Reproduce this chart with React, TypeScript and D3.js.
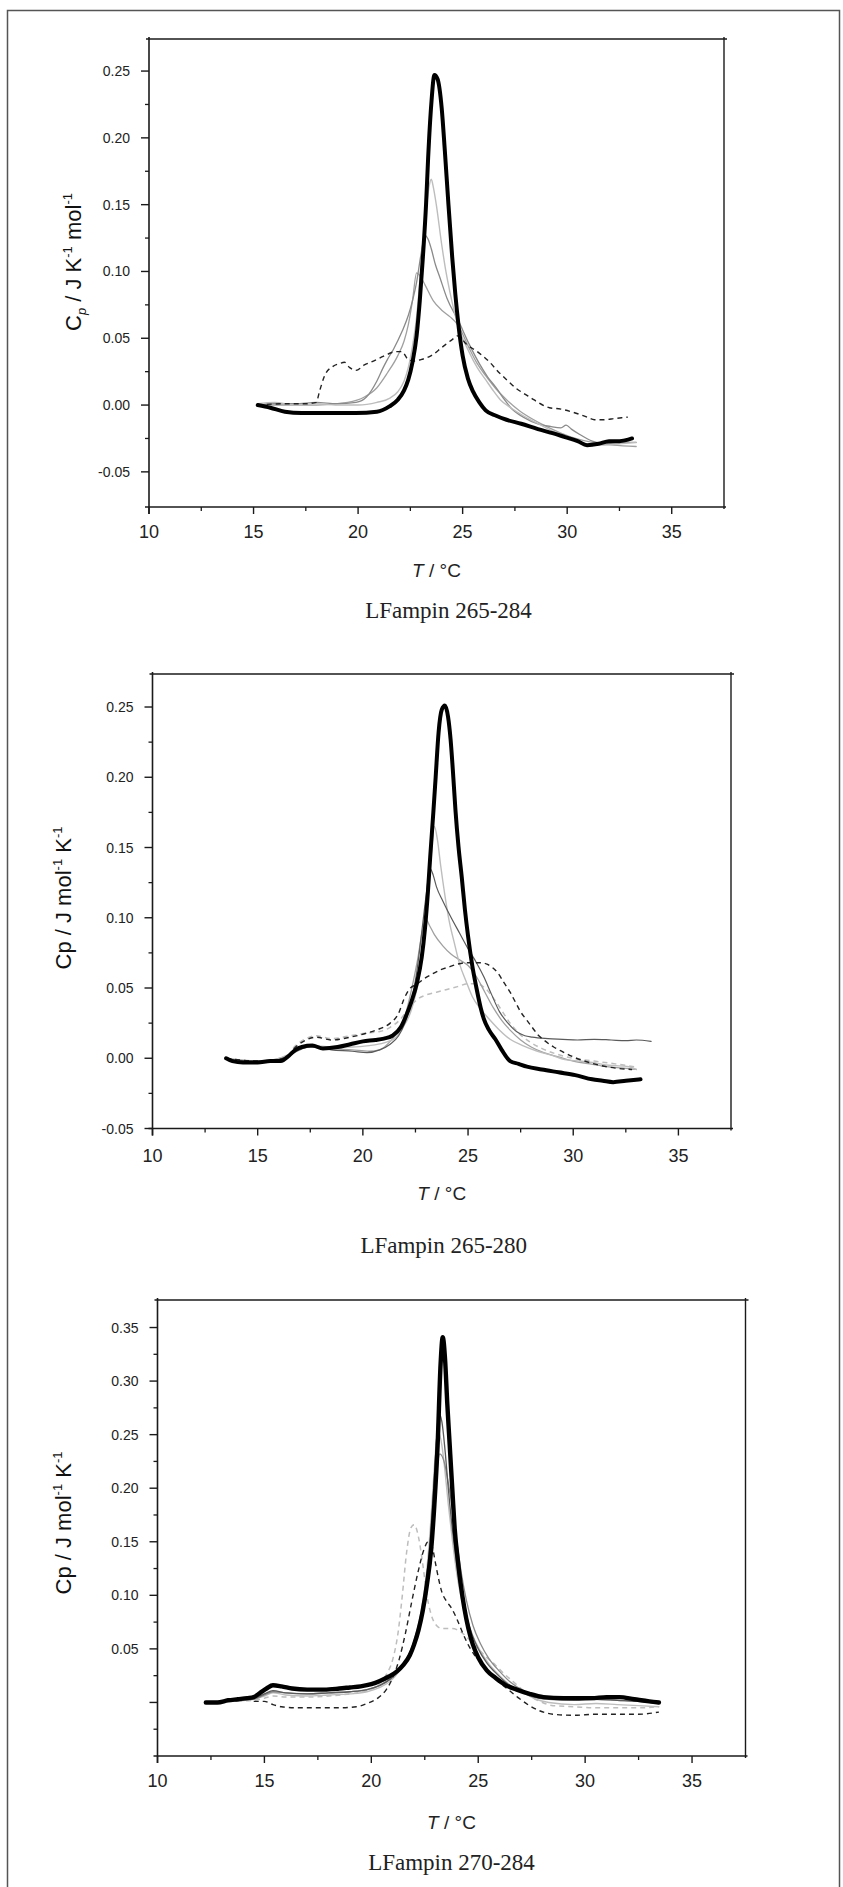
import React from "react";
import * as d3 from "d3";

type Pt = [number, number];

// ---------- shared axis data ----------
const xDomain: [number, number] = [10, 37.5];
const xTickValues = [10, 15, 20, 25, 30, 35];
const xTickLabels = ["10", "15", "20", "25", "30", "35"];
const xMinorTicks = [12.5, 17.5, 22.5, 27.5, 32.5];

// ---------- panel 1 : LFampin 265-284 ----------
const yDomain1: [number, number] = [-0.0763, 0.274];
const yTicks1 = [-0.05, 0, 0.05, 0.1, 0.15, 0.2, 0.25];
const yTickLabels1 = ["-0.05", "0.00", "0.05", "0.10", "0.15", "0.20", "0.25"];
const yMinor1 = [-0.025, 0.025, 0.075, 0.125, 0.175, 0.225];

const p1Black: Pt[] = [[15.2,0.000],[15.8,-0.002],[16.5,-0.005],[17.3,-0.006],[18.5,-0.006],[19.9,-0.006],[20.9,-0.005],[21.5,-0.001],[21.9,0.004],[22.2,0.011],[22.4,0.019],[22.6,0.032],[22.8,0.052],[22.95,0.078],[23.1,0.111],[23.25,0.150],[23.35,0.185],[23.5,0.225],[23.65,0.247],[23.8,0.244],[24.0,0.222],[24.15,0.190],[24.3,0.155],[24.5,0.111],[24.65,0.083],[24.8,0.060],[25.0,0.037],[25.25,0.020],[25.5,0.010],[25.8,0.002],[26.1,-0.004],[26.6,-0.008],[27.1,-0.011],[27.8,-0.014],[28.6,-0.018],[29.3,-0.021],[29.9,-0.024],[30.5,-0.027],[30.95,-0.030],[31.5,-0.029],[32.0,-0.027],[32.5,-0.027],[33.1,-0.025]];
const p1Light: Pt[] = [[15.2,0.001],[16.0,0.002],[17.0,0.000],[18.0,0.001],[19.0,0.000],[20.0,0.000],[20.9,0.002],[21.5,0.005],[21.9,0.010],[22.2,0.018],[22.4,0.028],[22.6,0.044],[22.8,0.066],[22.95,0.092],[23.1,0.120],[23.25,0.145],[23.4,0.164],[23.5,0.169],[23.6,0.163],[23.74,0.150],[24.0,0.120],[24.2,0.100],[24.4,0.084],[24.77,0.060],[25.3,0.040],[25.7,0.028],[26.1,0.019],[26.5,0.010],[26.8,0.004],[27.3,-0.002],[27.9,-0.008],[28.5,-0.013],[29.1,-0.018],[29.7,-0.022],[30.2,-0.025],[30.7,-0.028],[31.2,-0.030],[31.8,-0.030],[32.5,-0.029],[33.3,-0.028]];
const p1Mid: Pt[] = [[15.2,0.000],[16.0,0.001],[17.0,0.001],[18.0,0.002],[19.0,0.001],[19.9,0.002],[20.4,0.006],[20.9,0.018],[21.2,0.028],[21.4,0.034],[21.7,0.042],[22.1,0.055],[22.4,0.067],[22.6,0.078],[22.8,0.092],[23.0,0.112],[23.2,0.127],[23.35,0.124],[23.5,0.117],[23.7,0.105],[23.9,0.096],[24.25,0.080],[24.8,0.063],[25.3,0.046],[25.8,0.031],[26.2,0.021],[26.6,0.013],[27.0,0.004],[27.3,-0.002],[27.9,-0.009],[28.6,-0.014],[29.2,-0.016],[29.7,-0.017],[29.95,-0.015],[30.2,-0.018],[30.6,-0.022],[31.2,-0.027],[31.8,-0.029],[32.5,-0.028],[33.3,-0.028]];
const p1Gray: Pt[] = [[15.2,0.000],[16.5,0.000],[18.0,0.000],[19.5,0.002],[20.3,0.006],[20.9,0.013],[21.4,0.024],[21.9,0.037],[22.2,0.048],[22.4,0.060],[22.6,0.078],[22.8,0.099],[22.95,0.097],[23.2,0.090],[23.6,0.078],[24.0,0.071],[24.4,0.066],[24.77,0.060],[25.3,0.043],[25.7,0.031],[26.1,0.022],[26.6,0.012],[27.1,0.004],[27.7,-0.004],[28.4,-0.011],[29.0,-0.016],[29.7,-0.021],[30.4,-0.025],[31.2,-0.028],[32.2,-0.030],[33.3,-0.031]];
const p1Dash: Pt[] = [[15.2,0.000],[16.5,0.001],[17.5,0.001],[18.0,0.002],[18.15,0.010],[18.4,0.022],[18.8,0.029],[19.1,0.031],[19.35,0.032],[19.6,0.028],[19.9,0.026],[20.3,0.030],[20.6,0.032],[21.0,0.035],[21.4,0.038],[21.8,0.040],[22.1,0.040],[22.4,0.034],[22.7,0.033],[23.0,0.034],[23.5,0.037],[24.0,0.043],[24.5,0.049],[24.8,0.052],[25.15,0.046],[25.7,0.040],[26.3,0.032],[26.7,0.025],[27.1,0.019],[27.6,0.012],[28.0,0.008],[28.4,0.004],[29.15,-0.002],[29.7,-0.003],[30.2,-0.005],[30.6,-0.007],[30.95,-0.009],[31.3,-0.011],[31.7,-0.011],[32.3,-0.010],[32.9,-0.009]];

// ---------- panel 2 : LFampin 265-280 ----------
const yDomain2: [number, number] = [-0.05, 0.2735];
const yTicks2 = [-0.05, 0, 0.05, 0.1, 0.15, 0.2, 0.25];
const yTickLabels2 = ["-0.05", "0.00", "0.05", "0.10", "0.15", "0.20", "0.25"];
const yMinor2 = [-0.025, 0.025, 0.075, 0.125, 0.175, 0.225];

const p2Black: Pt[] = [[13.5,0.000],[13.8,-0.002],[14.3,-0.003],[15.0,-0.003],[15.6,-0.002],[16.1,-0.002],[16.5,0.002],[16.8,0.006],[17.1,0.008],[17.6,0.009],[18.1,0.007],[18.8,0.008],[19.4,0.010],[20.0,0.012],[20.6,0.013],[21.0,0.014],[21.4,0.016],[21.8,0.022],[22.05,0.030],[22.3,0.040],[22.56,0.053],[22.8,0.072],[22.95,0.092],[23.1,0.120],[23.2,0.143],[23.35,0.175],[23.46,0.200],[23.6,0.232],[23.75,0.248],[23.9,0.251],[24.05,0.243],[24.17,0.227],[24.3,0.200],[24.4,0.177],[24.55,0.150],[24.7,0.129],[24.85,0.106],[25.0,0.087],[25.2,0.066],[25.4,0.050],[25.6,0.036],[25.75,0.028],[26.0,0.020],[26.3,0.0135],[26.6,0.006],[27.0,-0.002],[27.4,-0.004],[27.8,-0.006],[28.5,-0.008],[29.3,-0.010],[30.1,-0.012],[30.9,-0.015],[31.4,-0.016],[31.9,-0.017],[32.5,-0.016],[33.2,-0.015]];
const p2Light: Pt[] = [[13.5,0.000],[14.3,-0.002],[15.5,-0.002],[16.5,0.003],[17.0,0.007],[17.5,0.009],[18.5,0.008],[19.5,0.008],[20.3,0.009],[21.0,0.011],[21.5,0.014],[21.9,0.022],[22.2,0.030],[22.5,0.045],[22.7,0.059],[22.9,0.085],[23.1,0.115],[23.25,0.145],[23.4,0.165],[23.55,0.155],[23.7,0.137],[23.9,0.116],[24.1,0.098],[24.35,0.082],[24.6,0.067],[24.9,0.055],[25.2,0.044],[25.6,0.035],[26.0,0.028],[26.5,0.020],[27.0,0.0135],[27.6,0.009],[28.3,0.005],[29.0,0.002],[29.6,-0.001],[30.3,-0.002],[30.9,-0.003],[31.7,-0.005],[32.65,-0.006],[33.0,-0.008]];
const p2Dark: Pt[] = [[13.5,0.000],[14.5,-0.002],[15.5,-0.002],[16.5,0.002],[17.0,0.006],[17.5,0.008],[18.5,0.006],[19.5,0.005],[20.2,0.004],[20.8,0.006],[21.3,0.010],[21.7,0.016],[22.0,0.025],[22.3,0.040],[22.55,0.060],[22.8,0.090],[23.0,0.115],[23.2,0.135],[23.35,0.130],[23.5,0.122],[23.8,0.112],[24.2,0.100],[24.6,0.089],[25.0,0.078],[25.4,0.068],[25.75,0.058],[26.1,0.046],[26.5,0.033],[26.9,0.025],[27.3,0.019],[27.7,0.016],[28.05,0.015],[28.8,0.014],[29.5,0.0135],[30.2,0.013],[31.0,0.0135],[31.8,0.013],[32.5,0.0125],[33.0,0.013],[33.7,0.012]];
const p2Mid: Pt[] = [[13.5,0.000],[15.0,-0.002],[16.5,0.002],[17.0,0.007],[17.5,0.009],[18.5,0.007],[19.5,0.006],[20.3,0.005],[20.8,0.006],[21.3,0.012],[21.7,0.020],[22.0,0.030],[22.3,0.048],[22.6,0.070],[22.85,0.092],[23.0,0.099],[23.15,0.095],[23.4,0.088],[23.8,0.080],[24.2,0.074],[24.6,0.070],[25.0,0.066],[25.4,0.058],[25.8,0.047],[26.2,0.036],[26.6,0.027],[27.0,0.020],[27.5,0.013],[28.0,0.008],[28.6,0.004],[29.3,0.001],[30.0,-0.002],[30.8,-0.004],[31.6,-0.006],[32.4,-0.007],[33.0,-0.008]];
const p2Dash: Pt[] = [[13.5,0.000],[15.0,-0.002],[16.3,0.000],[16.8,0.008],[17.3,0.013],[17.8,0.015],[18.5,0.013],[19.4,0.015],[20.2,0.018],[20.8,0.021],[21.3,0.025],[21.7,0.032],[21.95,0.042],[22.2,0.049],[22.6,0.053],[22.95,0.057],[23.3,0.060],[23.7,0.063],[24.1,0.065],[24.5,0.067],[24.9,0.068],[25.25,0.068],[25.6,0.068],[25.9,0.067],[26.2,0.064],[26.4,0.061],[26.7,0.054],[27.0,0.047],[27.25,0.040],[27.5,0.033],[27.8,0.027],[28.05,0.022],[28.3,0.017],[28.56,0.0135],[29.07,0.008],[29.45,0.005],[30.0,0.001],[31.0,-0.004],[32.0,-0.007],[32.8,-0.008]];
const p2LightDash: Pt[] = [[13.5,0.000],[15.0,-0.002],[16.3,0.000],[16.8,0.009],[17.3,0.014],[17.8,0.016],[18.5,0.014],[19.4,0.016],[20.2,0.018],[20.8,0.019],[21.3,0.022],[21.8,0.028],[22.2,0.036],[22.6,0.042],[23.0,0.045],[23.5,0.047],[24.0,0.049],[24.5,0.051],[25.0,0.053],[25.4,0.053],[25.8,0.050],[26.2,0.043],[26.6,0.034],[27.0,0.025],[27.4,0.018],[27.9,0.012],[28.5,0.007],[29.2,0.003],[30.0,0.000],[31.0,-0.002],[32.0,-0.004],[32.9,-0.006]];

// ---------- panel 3 : LFampin 270-284 ----------
const yDomain3: [number, number] = [-0.05, 0.3757];
const yTicks3 = [0, 0.05, 0.1, 0.15, 0.2, 0.25, 0.3, 0.35];
const yTickLabels3 = ["", "0.05", "0.10", "0.15", "0.20", "0.25", "0.30", "0.35"];
const yMinor3 = [-0.025, 0.025, 0.075, 0.125, 0.175, 0.225, 0.275, 0.325];

const p3Black: Pt[] = [[12.26,0.000],[12.8,0.000],[13.3,0.002],[13.76,0.003],[14.2,0.004],[14.5,0.005],[14.8,0.009],[15.1,0.013],[15.4,0.016],[15.8,0.015],[16.3,0.013],[17.0,0.012],[17.8,0.012],[18.5,0.013],[19.0,0.014],[19.5,0.015],[20.0,0.017],[20.4,0.020],[20.8,0.024],[21.2,0.029],[21.5,0.035],[21.8,0.044],[22.0,0.054],[22.2,0.067],[22.4,0.085],[22.6,0.110],[22.8,0.143],[22.95,0.185],[23.1,0.240],[23.24,0.316],[23.34,0.341],[23.45,0.320],[23.55,0.280],[23.67,0.239],[23.8,0.195],[23.9,0.162],[24.05,0.132],[24.17,0.112],[24.35,0.088],[24.54,0.069],[24.75,0.054],[25.0,0.042],[25.4,0.030],[25.8,0.023],[26.3,0.016],[26.8,0.012],[27.4,0.008],[28.05,0.005],[29.0,0.004],[30.3,0.004],[31.0,0.005],[31.6,0.005],[32.3,0.003],[33.0,0.001],[33.45,0.000]];
const p3Mid: Pt[] = [[13.5,0.002],[14.5,0.004],[15.0,0.008],[15.4,0.011],[16.0,0.009],[17.0,0.008],[18.0,0.009],[19.0,0.010],[19.8,0.012],[20.4,0.016],[20.9,0.022],[21.3,0.030],[21.7,0.042],[22.0,0.057],[22.3,0.080],[22.55,0.110],[22.75,0.150],[22.9,0.195],[23.05,0.245],[23.15,0.270],[23.3,0.262],[23.45,0.235],[23.6,0.200],[23.8,0.160],[24.0,0.128],[24.2,0.103],[24.4,0.084],[24.7,0.064],[25.0,0.050],[25.4,0.037],[25.9,0.026],[26.4,0.017],[27.0,0.010],[27.6,0.005],[28.3,0.003],[29.5,0.002],[30.5,0.003],[31.5,0.002],[32.5,0.001],[33.45,-0.001]];
const p3Light: Pt[] = [[13.3,0.001],[14.5,0.003],[15.0,0.006],[15.4,0.009],[16.0,0.007],[17.0,0.006],[18.0,0.007],[19.0,0.008],[19.8,0.010],[20.4,0.014],[20.9,0.020],[21.3,0.029],[21.7,0.042],[22.0,0.058],[22.3,0.082],[22.55,0.115],[22.75,0.160],[22.9,0.205],[23.05,0.245],[23.15,0.252],[23.3,0.240],[23.45,0.215],[23.6,0.185],[23.8,0.150],[24.0,0.120],[24.2,0.098],[24.45,0.080],[24.75,0.062],[25.1,0.048],[25.5,0.036],[26.0,0.025],[26.5,0.016],[27.1,0.009],[27.7,0.003],[28.3,0.000],[29.5,-0.002],[30.5,-0.001],[31.5,-0.002],[32.5,-0.003],[33.45,-0.004]];
const p3Dark: Pt[] = [[13.3,0.001],[14.5,0.003],[15.0,0.007],[15.4,0.010],[16.0,0.009],[17.0,0.008],[18.0,0.009],[19.0,0.010],[19.8,0.012],[20.4,0.016],[20.9,0.022],[21.3,0.030],[21.7,0.041],[22.0,0.055],[22.3,0.076],[22.55,0.103],[22.8,0.145],[23.0,0.200],[23.2,0.232],[23.4,0.225],[23.6,0.205],[23.8,0.180],[24.0,0.150],[24.2,0.122],[24.45,0.095],[24.75,0.072],[25.1,0.055],[25.5,0.041],[26.0,0.029],[26.5,0.019],[27.1,0.011],[27.7,0.006],[28.3,0.004],[29.5,0.003],[30.5,0.003],[31.5,0.002],[32.5,0.001],[33.45,0.000]];
const p3LightDash: Pt[] = [[13.3,0.001],[14.5,0.002],[15.0,0.004],[15.4,0.006],[16.0,0.005],[17.0,0.005],[18.0,0.006],[19.0,0.008],[19.8,0.011],[20.3,0.016],[20.7,0.026],[21.0,0.040],[21.25,0.065],[21.45,0.100],[21.65,0.140],[21.85,0.163],[22.0,0.166],[22.2,0.155],[22.4,0.130],[22.6,0.100],[22.8,0.082],[23.0,0.073],[23.3,0.069],[23.7,0.069],[24.0,0.068],[24.3,0.064],[24.6,0.058],[25.0,0.050],[25.4,0.042],[25.8,0.035],[26.2,0.027],[26.6,0.020],[27.0,0.013],[27.5,0.005],[28.0,0.000],[28.5,-0.003],[29.5,-0.004],[30.5,-0.005],[31.5,-0.005],[32.5,-0.005],[33.45,-0.004]];
const p3Dash: Pt[] = [[14.5,0.001],[15.0,0.001],[15.4,-0.002],[15.8,-0.004],[16.5,-0.005],[17.5,-0.005],[18.5,-0.005],[19.3,-0.004],[19.8,-0.001],[20.3,0.004],[20.7,0.012],[21.0,0.023],[21.3,0.040],[21.6,0.065],[21.9,0.095],[22.2,0.123],[22.45,0.142],[22.65,0.150],[22.85,0.145],[23.0,0.130],[23.15,0.115],[23.3,0.103],[23.5,0.095],[23.75,0.088],[24.0,0.078],[24.25,0.066],[24.5,0.055],[24.8,0.045],[25.1,0.038],[25.5,0.028],[25.9,0.020],[26.4,0.012],[26.9,0.004],[27.4,-0.003],[27.9,-0.008],[28.5,-0.011],[29.5,-0.012],[30.5,-0.011],[31.5,-0.011],[32.5,-0.011],[33.45,-0.009]];

const titles = ["LFampin 265-284", "LFampin 265-280", "LFampin 270-284"];

// ---------- rendering ----------
type Series = { data: Pt[]; color: string; width: number; dash?: string };
type Layout = { left: number; right: number; top: number; bottom: number; ylx: number; yly: number; xLabY: number; tY: number; subY: number; subDX: number };

const SANS = "'Liberation Sans', Arial, sans-serif";
const SERIF = "'Liberation Serif', 'Times New Roman', serif";

function YLabel({ variant, x, y }: { variant: number; x: number; y: number }) {
  const fs = 22;
  const small = 13;
  if (variant === 0) {
    return (
      <text transform={`translate(${x},${y}) rotate(-90)`} textAnchor="middle" fontFamily={SANS} fontSize={fs} fill="#111">
        C
        <tspan fontSize={small} dy={5} fontStyle="italic">p</tspan>
        <tspan dy={-5}> / J K</tspan>
        <tspan fontSize={small} dy={-9}>-1</tspan>
        <tspan dy={9}> mol</tspan>
        <tspan fontSize={small} dy={-9}>-1</tspan>
      </text>
    );
  }
  return (
    <text transform={`translate(${x},${y}) rotate(-90)`} textAnchor="middle" fontFamily={SANS} fontSize={fs} fill="#111">
      Cp / J mol
      <tspan fontSize={small} dy={-9}>-1</tspan>
      <tspan dy={9}> K</tspan>
      <tspan fontSize={small} dy={-9}>-1</tspan>
    </text>
  );
}

function Panel({ L, yDomain, yTicks, yTickLabels, yMinor, series, variant, title }: {
  L: Layout; yDomain: [number, number]; yTicks: number[]; yTickLabels: string[]; yMinor: number[]; series: Series[]; variant: number; title: string;
}) {
  const x = d3.scaleLinear().domain(xDomain).range([L.left, L.right]);
  const y = d3.scaleLinear().domain(yDomain).range([L.bottom, L.top]);
  const line = d3.line<Pt>().x((d) => x(d[0])).y((d) => y(d[1])).curve(d3.curveMonotoneX);
  const axisColor = "#1a1a1a";
  const cx = (L.left + L.right) / 2;
  return (
    <g>
      {series.map((s, i) => (
        <path key={i} d={line(s.data) || ""} fill="none" stroke={s.color} strokeWidth={s.width}
          strokeDasharray={s.dash} strokeLinejoin="round" strokeLinecap={s.dash ? "butt" : "round"} />
      ))}
      <line x1={L.left - 4} x2={L.right + 2} y1={L.bottom} y2={L.bottom} stroke={axisColor} strokeWidth={1.6} />
      <line x1={L.left - 3} x2={L.right + 3} y1={L.top} y2={L.top} stroke={axisColor} strokeWidth={1.4} />
      <line x1={L.left} x2={L.left} y1={L.top - 2} y2={L.bottom + 7} stroke={axisColor} strokeWidth={1.6} />
      <line x1={L.right} x2={L.right} y1={L.top - 2} y2={L.bottom + 2} stroke={axisColor} strokeWidth={1.4} />
      {xTickValues.map((v, i) => (
        <g key={"xt" + i}>
          <line x1={x(v)} x2={x(v)} y1={L.bottom} y2={L.bottom + 7} stroke={axisColor} strokeWidth={1.4} />
          <text x={x(v)} y={L.xLabY} textAnchor="middle" fontFamily={SANS} fontSize={18} fill="#222">{xTickLabels[i]}</text>
        </g>
      ))}
      {xMinorTicks.map((v, i) => (
        <line key={"xm" + i} x1={x(v)} x2={x(v)} y1={L.bottom} y2={L.bottom + 4} stroke={axisColor} strokeWidth={1.3} />
      ))}
      {yTicks.map((v, i) => (
        <g key={"yt" + i}>
          <line x1={L.left - 8} x2={L.left} y1={y(v)} y2={y(v)} stroke={axisColor} strokeWidth={1.4} />
          <text x={L.left - 19} y={y(v) + 5} textAnchor="end" fontFamily={SANS} fontSize={14} fill="#222">{yTickLabels[i]}</text>
        </g>
      ))}
      {yMinor.map((v, i) => (
        <line key={"ym" + i} x1={L.left - 4} x2={L.left} y1={y(v)} y2={y(v)} stroke={axisColor} strokeWidth={1.3} />
      ))}
      <YLabel variant={variant} x={L.ylx} y={L.yly} />
      <text x={cx} y={L.tY} textAnchor="middle" fontFamily={SANS} fontSize={19} fill="#222">
        <tspan fontStyle="italic">T</tspan> / °C
      </text>
      <text x={cx + L.subDX} y={L.subY} textAnchor="middle" fontFamily={SERIF} fontSize={23} fill="#222">{title}</text>
    </g>
  );
}

export default function App() {
  const layouts: Layout[] = [
    { left: 149, right: 724, top: 39, bottom: 507, ylx: 81, yly: 262, xLabY: 538, tY: 577, subY: 618, subDX: 12 },
    { left: 152.5, right: 731, top: 674, bottom: 1128.5, ylx: 71, yly: 898, xLabY: 1162, tY: 1200, subY: 1253, subDX: 2 },
    { left: 157.5, right: 745.5, top: 1300, bottom: 1756, ylx: 71, yly: 1523, xLabY: 1787, tY: 1829, subY: 1870, subDX: 0 },
  ];
  const lightC = "#bdbdbd";
  const midC = "#8a8a8a";
  const darkC = "#5a5a5a";
  const grayC = "#a0a0a0";
  const s1: Series[] = [
    { data: p1Gray, color: grayC, width: 1.3 },
    { data: p1Mid, color: midC, width: 1.3 },
    { data: p1Light, color: lightC, width: 1.4 },
    { data: p1Dash, color: "#222", width: 1.4, dash: "5,4" },
    { data: p1Black, color: "#000", width: 4 },
  ];
  const s2: Series[] = [
    { data: p2LightDash, color: lightC, width: 1.5, dash: "5,4" },
    { data: p2Mid, color: grayC, width: 1.3 },
    { data: p2Light, color: lightC, width: 1.4 },
    { data: p2Dark, color: darkC, width: 1.2 },
    { data: p2Dash, color: "#222", width: 1.4, dash: "5,4" },
    { data: p2Black, color: "#000", width: 4 },
  ];
  const s3: Series[] = [
    { data: p3LightDash, color: lightC, width: 1.5, dash: "5,4" },
    { data: p3Light, color: lightC, width: 1.4 },
    { data: p3Dark, color: midC, width: 1.3 },
    { data: p3Mid, color: darkC, width: 1.3 },
    { data: p3Dash, color: "#222", width: 1.4, dash: "5,4" },
    { data: p3Black, color: "#000", width: 4.4 },
  ];
  return (
    <svg width={843} height={1887} style={{ position: "absolute", left: 0, top: 0, background: "#fff" }}>
      <rect x={0} y={0} width={843} height={1887} fill="#fff" />
      <rect x={7.5} y={10.5} width={832} height={1900} fill="none" stroke="#555" strokeWidth={1.5} />
      <Panel L={layouts[0]} yDomain={yDomain1} yTicks={yTicks1} yTickLabels={yTickLabels1} yMinor={yMinor1} series={s1} variant={0} title={titles[0]} />
      <Panel L={layouts[1]} yDomain={yDomain2} yTicks={yTicks2} yTickLabels={yTickLabels2} yMinor={yMinor2} series={s2} variant={1} title={titles[1]} />
      <Panel L={layouts[2]} yDomain={yDomain3} yTicks={yTicks3} yTickLabels={yTickLabels3} yMinor={yMinor3} series={s3} variant={1} title={titles[2]} />
    </svg>
  );
}
